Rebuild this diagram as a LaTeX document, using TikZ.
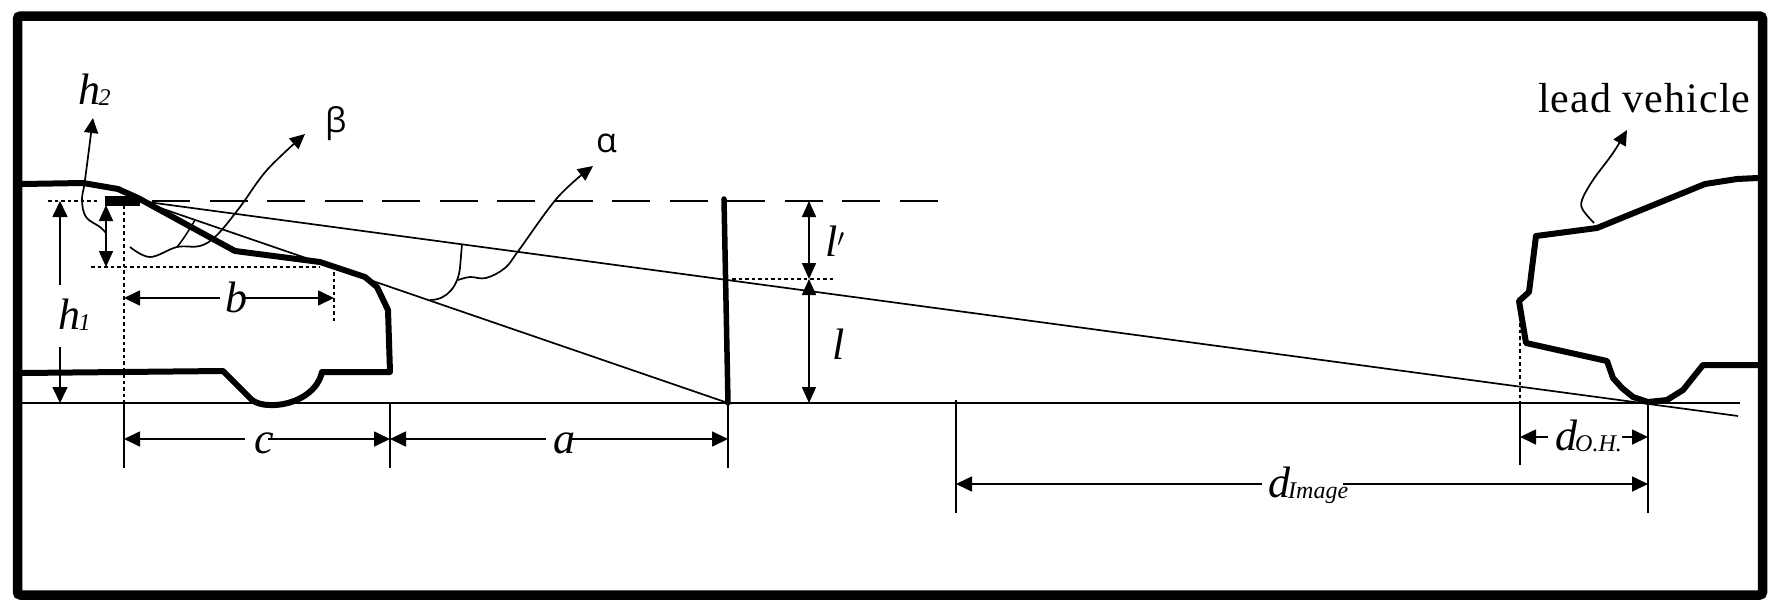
\documentclass[tikz,border=0pt]{standalone}
\usepackage{fontspec}
\setmainfont{Liberation Serif}
\newfontfamily\grkfont{Open Sans}
\newfontfamily\leadfont[LetterSpace=2.5]{Liberation Serif}
\usetikzlibrary{arrows.meta}
\newcommand{\mainsz}{\fontsize{44}{50}\selectfont\itshape}
\newcommand{\subtxt}[1]{\raisebox{-1pt}{\fontsize{24}{28}\selectfont\itshape #1}}
\tikzset{
  x=1pt,y=-1pt,
  frameline/.style={line width=9.5pt,rounded corners=3pt},
  carline/.style={line width=6pt,line join=round,line cap=round},
  thinline/.style={line width=1.7pt},
  dimleft/.style={thinline,{Triangle[length=16pt,width=15pt]}-},
  dimright/.style={thinline,-{Triangle[length=16pt,width=15pt]}},
  dimboth/.style={thinline,{Triangle[length=16pt,width=14pt]}-{Triangle[length=16pt,width=14pt]}},
  dotline/.style={line width=1.5pt,dash pattern=on 3.5pt off 3pt},
  leader/.style={line width=1.7pt,-{Triangle[length=15pt,width=14pt]}},
  lbl/.style={inner sep=0pt,anchor=base west,font=\mainsz},
  grk/.style={inner sep=0pt,anchor=base west,font=\fontsize{34}{38}\selectfont\grkfont},
  plain/.style={inner sep=0pt,anchor=base west,font=\fontsize{42}{46}\selectfont\leadfont},
}
\begin{document}
\begin{tikzpicture}
\useasboundingbox (0,0) rectangle (1772,613);
\fill[white] (0,0) rectangle (1772,613);
% frame
\draw[frameline] (17.5,16) rectangle (1762.5,595);
% key points
\coordinate (eye) at (140,201);
\coordinate (poleT) at (724,199);
\coordinate (poleB) at (728,403);
\coordinate (gL) at (22,403);
\coordinate (gR) at (1740,403);
\coordinate (sightEnd) at (1738,416);
% ground and sight lines
\draw[thinline] (gL) -- (gR);
\draw[thinline] (eye) -- (sightEnd);
\draw[thinline] (eye) -- (poleB);
\draw[line width=1.8pt,dash pattern=on 38pt off 19.5pt] (152,201) -- (941,201);
% host car
\draw[carline] (22,184) -- (83,183) -- (118,189) -- (138,198) -- (235,251) -- (320,262) -- (365,277) -- (377,287) -- (388,310) -- (390,372) -- (322,372) .. controls (317,395) and (290,406) .. (270,405) .. controls (262,405) and (256,403) .. (252,400) -- (223,371) -- (22,373);
\draw[line width=10pt] (105,201) -- (140,201);
% windshield pole
\draw[line width=5.5pt,line cap=round] (poleT) -- (poleB);
% lead car
\draw[carline] (1758,178) -- (1737,179) -- (1705,184) -- (1597,228) -- (1536,236) -- (1529,292) -- (1519,301) -- (1526,343) -- (1607,361) -- (1613,378) -- (1622,388) -- (1633,397) -- (1648,402) -- (1667,400) -- (1683,390) -- (1703,365) -- (1758,365);
% dotted guides
\draw[dotline] (48,201) -- (100,201);
\draw[dotline] (91,267) -- (320,267);
\draw[dotline] (124,205) -- (124,403);
\draw[dotline] (334,272) -- (334,323);
\draw[dotline] (732,279) -- (835,279);
\draw[dotline] (1520,323) -- (1520,403);
% extension lines
\draw[thinline] (124,403) -- (124,468);
\draw[thinline] (390,403) -- (390,468);
\draw[thinline] (728,403) -- (728,468);
\draw[thinline] (956,400) -- (956,513);
\draw[thinline] (1520,403) -- (1520,465);
\draw[thinline] (1648,403) -- (1648,513);
% dimensions
\draw[dimleft] (60,201) -- (60,285);
\draw[dimright] (60,347) -- (60,403);
\draw[dimboth] (106,205) -- (106,267);
\draw[dimleft] (124,298) -- (220,298);
\draw[dimright] (245,298) -- (334,298);
\draw[dimleft] (124,439) -- (245,439);
\draw[dimright] (268,439) -- (390,439);
\draw[dimleft] (390,439) -- (546,439);
\draw[dimright] (572,439) -- (728,439);
\draw[dimboth] (809,201) -- (809,279);
\draw[dimboth] (809,279) -- (809,403);
\draw[dimleft] (1520,437) -- (1548,437);
\draw[dimright] (1622,437) -- (1648,437);
\draw[dimleft] (956,484) -- (1262,484);
\draw[dimright] (1343,484) -- (1648,484);
% leaders
\draw[leader] plot[smooth,tension=.6] coordinates {(106,233) (100,227) (86,217) (82,200) (85,180) (93,118)};
\draw[leader] plot[smooth,tension=.6] coordinates {(130,247) (150,257) (177,247) (200,246) (217,235) (240,207) (267,170) (305,134)};
\draw[line width=1.5pt] (195,220) .. controls (188,232) and (182,241) .. (177,247);
\draw[line width=1.7pt] (462,244) -- (460,268) .. controls (458,285) and (448,300) .. (430,300);
\draw[leader] plot[smooth,tension=.6] coordinates {(458,280) (470,277) (486,278) (505,268) (519,250) (558,197) (593,166)};
\draw[leader] plot[smooth,tension=.6] coordinates {(1594,223) (1583,210) (1582,200) (1593,180) (1613,153) (1627,130)};
% labels
\node[lbl] (h2lab) at (78,104) {h\kern-1.5pt\subtxt{2}};
\node[lbl] (h1lab) at (58,329) {h\kern-1.5pt\subtxt{1}};
\node[lbl] (blab) at (225,312) {b};
\node[lbl] (clab) at (254,453) {c};
\node[lbl] (alab) at (553,453) {a};
\node[lbl] (lplab) at (825,256) {l$'$};
\node[lbl] (llab) at (832,359) {l};
\node[lbl] (dohlab) at (1555,450) {d\kern-2pt\subtxt{O.H.}};
\node[lbl] (dimlab) at (1268,497) {d\kern-2pt\subtxt{Image}};
\node[grk] (betalab) at (325,132) {β};
\node[grk] (alphalab) at (596,152) {α};
\node[plain] (leadlab) at (1538,112) {lead vehicle};
\end{tikzpicture}
\end{document}
